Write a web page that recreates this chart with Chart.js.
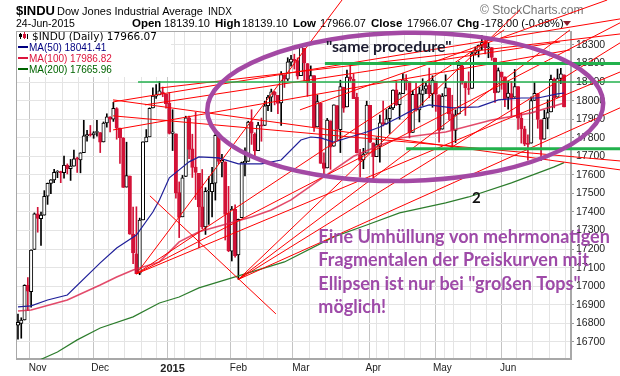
<!DOCTYPE html>
<html>
<head>
<meta charset="utf-8">
<script src="https://cdn.jsdelivr.net/npm/chart.js@4.4.1/dist/chart.umd.min.js"></script>
<style>
  html, body { margin: 0; padding: 0; background: #fff; }
  canvas { display: block; }
</style>
</head>
<body>
<canvas id="grafico" width="620" height="376"></canvas>
<script>
// Tageskerzen $INDU, Index 0 = 24-Oct-2014 ... Index 166 = 24-Jun-2015
const openV = [16790,16800,16818,17005,16971,17198,
  17390,17364,17383,17485,17554, 17573,17614,17614,17612,17652, 17634,17647,17687,17681,17720, 17810,17817,17815,17828,
  17828,17777,17880,17910,17900, 17957,17852,17800,17534,17594, 17281,17174,17070,17357,17778, 17805,17960,18024,18031, 18046,18035,17987,
  17823, 17821,17505,17374,17591,17907, 17740,17642,17608,17428,17320, 17513,17509,17555,17813, 17668,17670,17393,17189,17416,
  17169,17369,17664,17673,17884, 17820,17730,17869,17866,17973, 18018,18046,18028,17987, 18138,18116,18207,18223,18215,
  18134,18281,18200,18098,18135, 17858,17985,17665,17637,17891, 17754,17973,17843,18072,17966, 18128,18114,18018,17708,17681, 17717,17974,
  17772,17698, 17755,17881,17875,17903,17960, 18058,17978,18037,18107,18102, 17828,18034,17950,18034,18062, 18084,18036,18104,18031,
  17846, 18025,18068,17929,17839,17928, 18187,18101,18064,18066,18255, 18267,18300,18315,18285,18286, 18229,18045,18154,18128,
  18017,18038,18018,18075,17905, 17848,17765,17771,18001,18038, 17896,17792,17906,17939,18115, 18018,18120,18139];
const highV = [16850,16830,17008,17046,17196,17395,
  17425,17400,17515,17556,17574, 17630,17623,17620,17701,17659, 17683,17733,17695,17719,17894, 17840,17866,17833,17894,
  17828,17885,17929,17914,17991, 17962,17852,17800,17776,17594, 17427,17428,17367,17778,17844, 17961,18069,18086,18103, 18073,18035,18043,
  17951, 17821,17562,17597,17916,17917, 17819,17937,17608,17629,17531, 17590,17641,17834,17827, 17711,17670,17538,17430,17438,
  17362,17669,17746,17889,17951, 17827,17883,17906,17997,18029, 18062,18050,18028,18157, 18140,18231,18244,18250,18230,
  18289,18281,18200,18187,18135, 18030,17985,17719,17904,17891, 17977,17973,18110,18072,18165, 18206,18145,18040,17737,17743, 17997,17974,
  17772,17800, 17922,17998,17952,17968,18058, 18105,18044,18146,18140,18102, 18056,18095,18071,18118,18097, 18175,18134,18104,18031,
  18038, 18139,18068,18029,17950,18210, 18191,18101,18155,18262,18289, 18300,18351,18337,18314,18286, 18229,18176,18154,18128,
  18105,18104,18168,18075,17934, 17862,17815,18020,18097,18038, 17896,17948,18004,18138,18122, 18170,18174,18139];
const lowV = [16715,16720,16818,16869,16887,17198,
  17291,17220,17383,17441,17498, 17558,17585,17558,17582,17605, 17570,17647,17613,17611,17720, 17782,17808,17797,17808,
  17720,17777,17857,17831,17888, 17792,17662,17532,17534,17280, 17121,17067,17062,17357,17778, 17805,17960,18012,18031, 18021,17959,17820,
  17731, 17475,17262,17374,17591,17687, 17586,17467,17207,17309,17279, 17333,17374,17464,17660, 17589,17249,17186,17136,17156,
  17037,17369,17594,17673,17764, 17697,17730,17781,17866,17946, 17941,17977,17929,17866, 18071,18108,18186,18170,18116,
  18134,18106,18023,18098,17834, 17858,17662,17585,17637,17630, 17754,17789,17720,17937,17966, 18104,18011,17718,17587,17633, 17717,17773,
  17568,17698, 17668,17864,17873,17823,17951, 17974,17900,18037,18057,17799, 17828,17943,17885,17974,18038, 18015,17964,17942,17776,
  17846, 18025,17896,17743,17774,17928, 18088,17920,18033,18066,18246, 18235,18273,18251,18231,18217, 17990,18045,18061,17967,
  17954,17918,18018,17845,17771, 17757,17679,17771,18001,17851, 17677,17792,17848,17939,17961, 18018,18092,17966];
const closeV = [16805,16818,17005,16974,17195,17390,
  17366,17383,17484,17554,17573, 17613,17614,17612,17652,17634, 17647,17687,17685,17719,17810, 17817,17814,17827,17828,
  17776,17879,17912,17900,17958, 17852,17801,17533,17596,17280, 17180,17068,17356,17778,17804, 17959,18024,18030,18053, 18038,17983,17823,
  17832, 17501,17371,17584,17907,17737, 17640,17613,17427,17320,17511, 17515,17554,17813,17672, 17678,17387,17191,17416,17164,
  17361,17666,17673,17884,17824, 17729,17868,17862,17972,18019, 18047,18029,17985,18140, 18116,18209,18224,18214,18132,
  18288,18203,18096,18135,17856, 17995,17662,17635,17895,17749, 17977,17849,18076,17959,18127, 18116,18011,17718,17678,17712, 17976,17776,
  17698,17763, 17880,17875,17902,17958,18057, 17977,18036,18112,18105,17826, 18034,17949,18038,18058,18080, 18037,18110,18035,17840,
  18024, 18070,17928,17841,17924,18191, 18105,18068,18060,18252,18272, 18298,18312,18285,18285,18232, 18041,18162,18126,18010,
  18040,18011,18076,17905,17849, 17766,17764,18000,18039,17898, 17791,17904,17935,18115,18015, 18119,18144,17966];

// X-Achse: Monatsanfaenge und Wochenanfaenge (Handelstag-Index)
const monthIdx = [6, 25, 47, 67, 86, 108, 129, 149];
const monthLabels = ['Nov', 'Dec', '2015', 'Feb', 'Mar', 'Apr', 'May', 'Jun'];
const weekIdx = [1,6,11,16,21,25,30,35,40,44,48,53,58,62,67,72,77,81,86,91,96,101,106,110,115,120,125,130,135,140,145,149,154,159,164];

// Gleitende Durchschnitte
const ma50Idx = [0,4,9,15,25,30,36,41,43,46,49,52,55,61,67,74,80,86,89,92,96,101,106,110,116,120,125,132,140,146,153,158,164,166];
const ma50Val = [16889,16894,16926,16953,17126,17206,17276,17400,17465,17584,17627,17670,17697,17691,17659,17659,17680,17788,17804,17799,17777,17804,17831,17858,17912,17950,17977,17961,17966,18004,18014,18014,18036,18041];
const ma100Idx = [0,4,15,25,30,35,43,49,55,71,77,83,86,96,102,110,116,130,144,156,166];
const ma100Val = [16867,16872,16926,17007,17050,17088,17131,17239,17293,17373,17411,17465,17503,17627,17700,17760,17799,17831,17896,17934,17987];
const ma200Idx = [5,12,18,25,35,43,49,55,67,81,96,106,116,130,137,150,163,166];
const ma200Val = [16590,16646,16711,16775,16835,16910,16942,16991,17056,17131,17266,17330,17395,17449,17481,17557,17643,17666];

// eingezeichnete Trendlinien [Index1, Kurs1, Index2, Kurs2]
const redLines = [
  [36, 17067, 98.5, 18542], [36, 17067, 147.8, 18381], [36, 17067, 183, 18419], [36, 17067, 183, 18154],
  [67, 17037, 152.6, 18489], [67, 17037, 167.8, 18381], [67, 17037, 183, 18311], [67, 17037, 183, 17961],
  [40.1, 17487, 78.4, 16851],
  [28.9, 18004, 183, 17627], [28.9, 17918, 183, 17675],
  [28.9, 17993, 183, 18440], [43.2, 18068, 183, 18359], [38.6, 17977, 164.8, 18316], [28.9, 17842, 167.8, 18273],
  [85.7, 17950, 179.1, 18542]
];
const greenThick = [[93.3, 18200, 183, 18200], [118, 17740, 183, 17740]];
const greenThin = [[36.5, 18100, 183, 18100]];
const ellipse = { i: 117.7, v: 17966, ri: 60.2, rv: 399 };
const noteAt = { i: 91.3, v: 17233 };
const sameAt = { i: 93.6, v: 18262 };
const twoAt = { i: 138, v: 17449 };
const noteLines = ['Eine Umhüllung von mehrmonatigen', 'Fragmentalen der Preiskurven mit',
  'Ellipsen ist nur bei "großen Tops"', 'möglich!'];

const RED = '#d31237';
const candleCol = closeV.map((c, i) => (i > 0 && c < closeV[i - 1]) ? RED : '#000');
const filled = closeV.map((c, i) => c < openV[i]);
const idx = closeV.map((c, i) => i);
const tickIdx = [...new Set(weekIdx.concat(monthIdx))].sort((a, b) => a - b);

const lineSet = (arr, color, width, order) => arr.map(l => ({
  type: 'line', data: [{x: l[0], y: l[1]}, {x: l[2], y: l[3]}],
  borderColor: color, borderWidth: width, pointRadius: 0, clip: false, order: order
}));
const maSet = (ix, vals, color, width) => ({
  type: 'line', data: ix.map((x, k) => ({x: x, y: vals[k]})),
  borderColor: color, borderWidth: width, pointRadius: 0, order: 1
});

function txt(ctx, s, x, y, font, color) {
  ctx.font = font; ctx.fillStyle = color; ctx.fillText(s, x, y);
}

const kopf = {
  id: 'kopf',
  beforeDraw(chart) {
    const c = chart.ctx;
    c.save(); c.fillStyle = '#fff'; c.fillRect(0, 0, chart.width, chart.height); c.restore();
  },
  beforeDatasetsDraw(chart) {
    const c = chart.ctx, a = chart.chartArea;
    c.save();
    c.textBaseline = 'alphabetic';
    const F = '"Liberation Sans", Arial, sans-serif';
    txt(c, '$INDU', 16, 15, 'bold 13px ' + F, '#000');
    txt(c, 'Dow Jones Industrial Average', 57, 15, '11px ' + F, '#000');
    txt(c, 'INDX', 208, 15, '10px ' + F, '#000');
    txt(c, '24-Jun-2015', 16, 27, '10.5px ' + F, '#000');
    const hb = 'bold 11.5px ' + F, hn = '11px ' + F;
    txt(c, 'Open', 132, 27, hb, '#000'); txt(c, '18139.10', 164, 27, hn, '#000');
    txt(c, 'High', 215, 27, hb, '#000'); txt(c, '18139.10', 242, 27, hn, '#000');
    txt(c, 'Low', 293, 27, hb, '#000'); txt(c, '17966.07', 320, 27, hn, '#000');
    txt(c, 'Close', 371, 27, hb, '#000'); txt(c, '17966.07', 407, 27, hn, '#000');
    txt(c, 'Chg', 457, 27, hb, '#000'); txt(c, '-178.00 (-0.98%)', 481, 27, hn, '#000');
    c.fillStyle = '#8a1c2b';
    c.beginPath(); c.moveTo(563, 21); c.lineTo(571, 21); c.lineTo(567, 26); c.closePath(); c.fill();
    txt(c, '\u00A9 StockCharts.com', 480, 14, '12px ' + F, '#777');

    // Rahmen
    c.strokeStyle = '#a8a8a8'; c.lineWidth = 1;
    c.strokeRect(a.left + 0.5, a.top + 0.5, a.right - a.left - 1, a.bottom - a.top - 1);

    // Legendenkasten
    c.fillStyle = '#fff'; c.fillRect(a.left + 1, a.top + 1, 154, 45);
    c.fillStyle = '#000'; c.fillRect(20, 33, 1, 6); c.fillRect(19, 34, 3, 3);
    c.fillStyle = RED; c.fillRect(24, 32, 1, 7); c.fillRect(23, 34, 3, 4);
    c.fillStyle = '#000'; c.fillRect(27, 34, 1, 5);
    txt(c, '$INDU (Daily) 17966.07', 32, 40, '10.5px "DejaVu Sans", sans-serif', '#000');
    const leg = [['MA(50) 18041.41', '#000080', 51], ['MA(100) 17986.82', '#dc143c', 62], ['MA(200) 17665.96', '#006400', 73]];
    leg.forEach(l => {
      c.fillStyle = l[1]; c.fillRect(18, l[2] - 5, 10, 2);
      txt(c, l[0], 29, l[2], '10px ' + F, l[1]);
    });
    c.restore();
  },
  afterDatasetsDraw(chart) {
    const c = chart.ctx, xs = chart.scales.x, ys = chart.scales.y;
    c.save();
    const cx = xs.getPixelForValue(ellipse.i), cy = ys.getPixelForValue(ellipse.v);
    const rx = xs.getPixelForValue(ellipse.i + ellipse.ri) - cx;
    const ry = cy - ys.getPixelForValue(ellipse.v + ellipse.rv);
    c.strokeStyle = '#a349a4'; c.lineWidth = 4.5;
    c.beginPath(); c.ellipse(cx, cy, rx, ry, -0.02, 0, Math.PI * 2); c.stroke();

    txt(c, '"same procedure"', xs.getPixelForValue(sameAt.i), ys.getPixelForValue(sameAt.v), 'bold 16px Lato, sans-serif', '#1c1c30');
    txt(c, '2', xs.getPixelForValue(twoAt.i), ys.getPixelForValue(twoAt.v), 'bold 15px Lato, sans-serif', '#111');
    const nx = xs.getPixelForValue(noteAt.i), ny = ys.getPixelForValue(noteAt.v);
    noteLines.forEach((s, k) => txt(c, s, nx, ny + k * 23.3, 'bold 18px Lato, sans-serif', '#9e4aa8'));
    c.restore();
  }
};

const ctx = document.getElementById('grafico').getContext('2d');
const grafico = new Chart(ctx, {
  type: 'bar',
  data: {
    datasets: [
      ...lineSet(greenThick, '#22b14c', 3, -2),
      ...lineSet(greenThin, '#22b14c', 1.5, -2),
      ...lineSet(redLines, '#ff0000', 1, -1),
      maSet(ma50Idx, ma50Val, '#1f1f99', 1.2),
      maSet(ma100Idx, ma100Val, 'rgba(220,30,70,0.8)', 1.6),
      maSet(ma200Idx, ma200Val, '#2d7d2d', 1.2),
      {
        type: 'bar', grouped: false, order: 2,
        data: idx.map(i => ({x: i, y: [openV[i], closeV[i]]})),
        barThickness: 3.4, minBarLength: 1, borderWidth: 1, borderSkipped: false,
        borderColor: candleCol, backgroundColor: idx.map(i => filled[i] ? candleCol[i] : '#fff')
      },
      {
        type: 'bar', grouped: false, order: 3,
        data: idx.map(i => ({x: i, y: [lowV[i], highV[i]]})),
        barThickness: 1, borderWidth: 0, backgroundColor: candleCol
      }
    ]
  },
  options: {
    responsive: false,
    animation: false,
    devicePixelRatio: 1,
    layout: { padding: { left: 16, top: 31, right: 0, bottom: 0 } },
    plugins: { legend: { display: false }, tooltip: { enabled: false } },
    scales: {
      x: {
        type: 'linear', min: -0.6, max: 168.1, offset: false,
        afterFit(s) { s.height = 17; },
        afterBuildTicks(s) { s.ticks = tickIdx.map(v => ({ value: v })); },
        ticks: {
          autoSkip: false, maxRotation: 0, padding: 3, color: '#222',
          callback: v => { const k = monthIdx.indexOf(v); return k >= 0 ? monthLabels[k] : ''; },
          font: c => ({ family: '"Liberation Sans", Arial, sans-serif', size: c.tick && c.tick.value === 47 ? 11 : 10,
            weight: c.tick && c.tick.value === 47 ? 'bold' : 'normal' })
        },
        grid: {
          drawTicks: false,
          color: c => (c.tick && monthIdx.includes(c.tick.value)) ? '#c4c4c4' : '#e4e4e4'
        },
        border: { display: true, color: '#a8a8a8' }
      },
      y: {
        position: 'right', min: 16608, max: 18375,
        afterFit(s) { s.width = 49; },
        ticks: { stepSize: 100, includeBounds: false, padding: 2, color: '#222',
          callback: v => String(v),
          font: { family: '"Liberation Sans", Arial, sans-serif', size: 10.5 } },
        grid: { color: '#e4e4e4', tickLength: 3, tickColor: '#999' },
        border: { display: true, color: '#a8a8a8' }
      }
    }
  },
  plugins: [kopf]
});
</script>
</body>
</html>
